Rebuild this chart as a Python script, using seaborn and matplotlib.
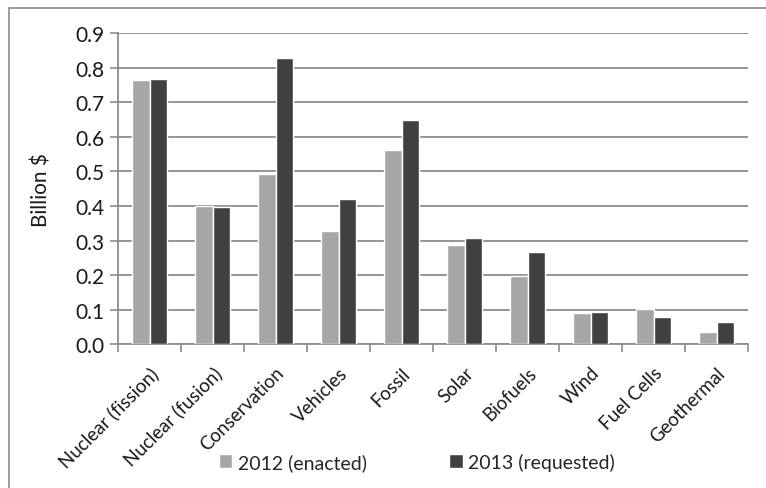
import matplotlib
matplotlib.use("Agg")
import matplotlib.pyplot as plt
import seaborn as sns
import pandas as pd
from matplotlib.patches import Rectangle

categories = ["Nuclear (fission)", "Nuclear (fusion)", "Conservation", "Vehicles", "Fossil",
              "Solar", "Biofuels", "Wind", "Fuel Cells", "Geothermal"]
values_2012 = [0.763, 0.401, 0.491, 0.328, 0.562, 0.288, 0.198, 0.091, 0.101, 0.036]
values_2013 = [0.768, 0.398, 0.827, 0.419, 0.649, 0.307, 0.268, 0.094, 0.079, 0.064]
series_names = ["2012 (enacted)", "2013 (requested)"]
y_ticks = [0.0, 0.1, 0.2, 0.3, 0.4, 0.5, 0.6, 0.7, 0.8, 0.9]

df = pd.DataFrame({
    "category": categories * 2,
    "value": values_2012 + values_2013,
    "series": [series_names[0]] * len(categories) + [series_names[1]] * len(categories),
})

sns.set_theme(style="white")
plt.rcParams["font.family"] = ["Lato", "DejaVu Sans"]
FS = 15
TXT = "#1a1a1a"

fig = plt.figure(figsize=(7.66, 4.89), dpi=100)
ax = fig.add_axes([118 / 766, 1 - 345.3 / 489, (748 - 118) / 766, (345.3 - 34) / 489])

# outer chart border
fig.patches.append(Rectangle((9 / 766, -0.1), 1.2, (489 - 9) / 489 + 0.1, transform=fig.transFigure,
                             fill=False, edgecolor="#8c8c8c", linewidth=1.2, zorder=0))

sns.barplot(data=df, x="category", y="value", hue="series", order=categories,
            hue_order=series_names, palette=["#a6a6a6", "#404040"], width=0.56,
            saturation=1, ax=ax, zorder=3)

ax.set_ylim(0, 0.9)
ax.set_xlim(-0.5, len(categories) - 0.5)
ax.set_yticks(y_ticks)
ax.set_yticklabels([f"{t:.1f}" for t in y_ticks], fontsize=FS, color=TXT)
ax.yaxis.grid(True, color="#8c8c8c", linewidth=1.3, zorder=0)
ax.set_axisbelow(True)

# x ticks between categories, labels at centers
ax.set_xticks([i - 0.5 for i in range(len(categories) + 1)])
ax.set_xticklabels([])
ax.set_xticks(range(len(categories)), minor=True)
ax.set_xticklabels(categories, minor=True, rotation=45, ha="right", rotation_mode="anchor",
                   fontsize=13.5, color=TXT)
ax.tick_params(axis="x", which="major", direction="out", length=6, width=1.2, color="#8c8c8c", bottom=True)
ax.tick_params(axis="x", which="minor", length=0, pad=14)
ax.tick_params(axis="y", direction="out", length=6, width=1.2, color="#8c8c8c", left=True, pad=4)

for side in ["top", "right"]:
    ax.spines[side].set_visible(False)
for side in ["left", "bottom"]:
    ax.spines[side].set_color("#8c8c8c")
    ax.spines[side].set_linewidth(1.3)

ax.set_xlabel("")
ax.set_ylabel("Billion $", fontsize=FS, color=TXT, labelpad=17)

ax.legend_.remove()
handles, labels = ax.get_legend_handles_labels()
fig.legend(handles, labels, loc="center", bbox_to_anchor=(417 / 766, 1 - 463 / 489), ncol=2,
           frameon=False, fontsize=14, handlelength=0.7, handleheight=0.7, handletextpad=0.3,
           columnspacing=4.2)

fig.savefig("out.png", dpi=100)
